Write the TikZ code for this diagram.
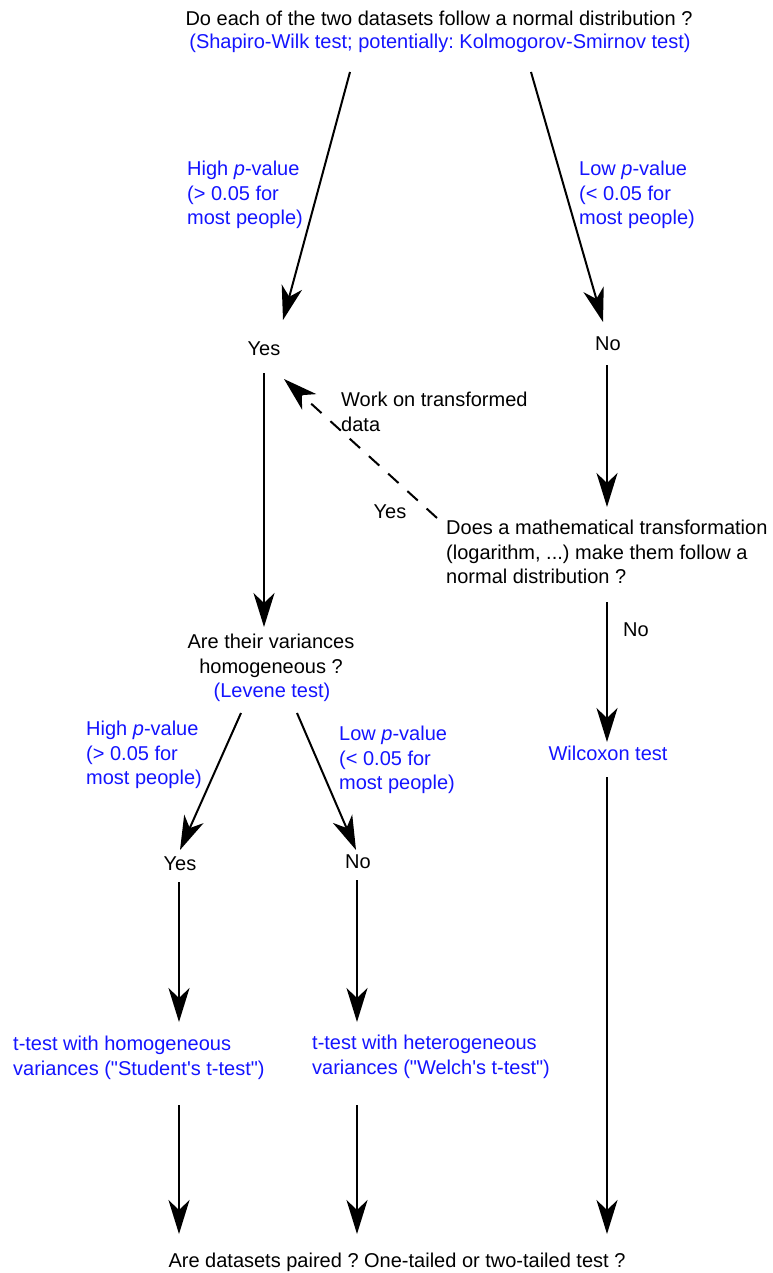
\documentclass[tikz,border=0pt]{standalone}
\usepackage{fontspec}
\newfontfamily\arial{Liberation Sans}
\usetikzlibrary{arrows.meta}
\definecolor{lblue}{RGB}{20,20,255}
\begin{document}
\begin{tikzpicture}[x=1pt,y=-1pt,
  txt/.style={inner sep=0pt, font=\arial\fontsize{20}{24.5}\selectfont\frenchspacing},
  bl/.style={txt, text=lblue},
  arr/.style={line width=2pt, -{Stealth[length=34pt,width=21pt,inset=10pt]}},
  dsh/.style={arr, dash pattern=on 14pt off 12pt},
]
\useasboundingbox (0,0) rectangle (772,1273);

% texts
\node[txt] (q1) at (439,18) {Do each of the two datasets follow a normal distribution ?};
\node[bl] (q1b) at (440,43) {(Shapiro-Wilk test; potentially: Kolmogorov-Smirnov test)};
\node[bl, align=left, anchor=west] (hp1) at (187,195) {High \textit{p}-value\\(> 0.05 for\\most people)};
\node[bl, align=left, anchor=west] (lp1) at (579,195) {Low \textit{p}-value\\(< 0.05 for\\most people)};
\node[txt] (yes1) at (264,349) {Yes};
\node[txt] (no1) at (608,344) {No};
\node[txt, align=left, anchor=west] (work) at (341,412) {Work on transformed\\data};
\node[txt] (yes2) at (390,512) {Yes};
\node[txt, align=left, anchor=west] (trans) at (446,552) {Does a mathematical transformation\\(logarithm, ...) make them follow a\\normal distribution ?};
\node[txt, anchor=west] (no2) at (623,630) {No};
\node[bl] (wil) at (608,753) {Wilcoxon test};
\node[txt, align=center] (var) at (271,656) {Are their variances\\homogeneous ?};
\node[bl] (lev) at (272,692) {(Levene test)};
\node[bl, align=left, anchor=west] (hp2) at (86,755) {High \textit{p}-value\\(> 0.05 for\\most people)};
\node[bl, align=left, anchor=west] (lp2) at (339,760) {Low \textit{p}-value\\(< 0.05 for\\most people)};
\node[txt] (yes3) at (180,864) {Yes};
\node[txt] (no3) at (358,862) {No};
\node[bl, align=left, anchor=west] (stu) at (13,1058) {t-test with homogeneous\\variances ("Student's t-test")};
\node[bl, align=left, anchor=west] (wel) at (312,1057) {t-test with heterogeneous\\variances ("Welch's t-test")};
\node[txt] (end) at (397,1262) {Are datasets paired ? One-tailed or two-tailed test ?};

% connector end points
\coordinate (a1s) at (350,72);  \coordinate (a1e) at (283,320);
\coordinate (a2s) at (531,72);  \coordinate (a2e) at (603,322);
\coordinate (a3s) at (264,373); \coordinate (a3e) at (264,627);
\coordinate (a4s) at (607,365); \coordinate (a4e) at (607,507);
\coordinate (a5s) at (437,518); \coordinate (a5e) at (284,379);
\coordinate (a6s) at (607,602); \coordinate (a6e) at (607,742);
\coordinate (a7s) at (607,777); \coordinate (a7e) at (607,1234);
\coordinate (a8s) at (241,713); \coordinate (a8e) at (180,850);
\coordinate (a9s) at (297,713); \coordinate (a9e) at (356,850);
\coordinate (b1s) at (179,882); \coordinate (b1e) at (179,1022);
\coordinate (b2s) at (357,880); \coordinate (b2e) at (357,1022);
\coordinate (b3s) at (179,1105); \coordinate (b3e) at (179,1234);
\coordinate (b4s) at (357,1105); \coordinate (b4e) at (357,1234);

\draw[arr] (a1s) -- (a1e);
\draw[arr] (a2s) -- (a2e);
\draw[arr] (a3s) -- (a3e);
\draw[arr] (a4s) -- (a4e);
\draw[dsh] (a5s) -- (a5e);
\draw[arr] (a6s) -- (a6e);
\draw[arr] (a7s) -- (a7e);
\draw[arr] (a8s) -- (a8e);
\draw[arr] (a9s) -- (a9e);
\draw[arr] (b1s) -- (b1e);
\draw[arr] (b2s) -- (b2e);
\draw[arr] (b3s) -- (b3e);
\draw[arr] (b4s) -- (b4e);
\end{tikzpicture}
\end{document}
